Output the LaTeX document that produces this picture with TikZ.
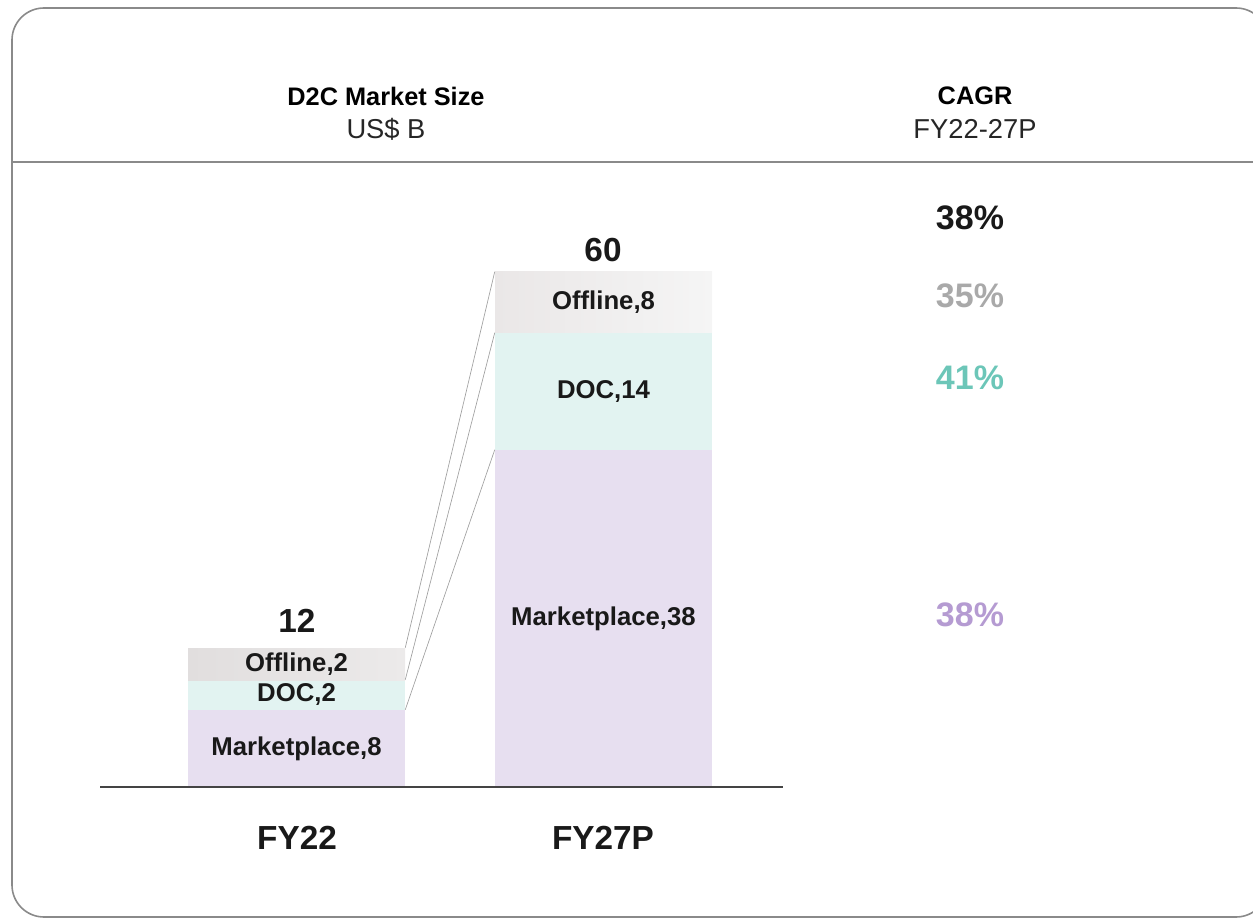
\documentclass[tikz,border=0pt]{standalone}
\usepackage{fontspec}
\setmainfont{Liberation Sans}
\definecolor{frame}{HTML}{8A8A8A}
\definecolor{offA}{HTML}{E1DEDE}
\definecolor{offB}{HTML}{ECEAEA}
\definecolor{offC}{HTML}{EAE7E7}
\definecolor{offD}{HTML}{F5F5F5}
\definecolor{docc}{HTML}{E2F3F1}
\definecolor{mkt}{HTML}{E7DFF0}
\definecolor{axisc}{HTML}{444444}
\definecolor{pgray}{HTML}{A9A9A9}
\definecolor{pteal}{HTML}{6CC6B8}
\definecolor{ppurp}{HTML}{B59BD2}
\definecolor{linkc}{HTML}{A0A0A0}
\begin{document}
\begin{tikzpicture}[x=0.75pt,y=-0.75pt,
  seg/.style={draw=none,inner sep=0pt,minimum width=162.75pt,font=\fontsize{19.3}{21}\selectfont\bfseries,text=black!90},
  hdr/.style={font=\fontsize{19}{22}\selectfont\bfseries,text=black},
  sub/.style={font=\fontsize{20.5}{23}\selectfont,text=black!85},
  big/.style={font=\fontsize{25}{28}\selectfont\bfseries,text=black!90},
  pct/.style={font=\fontsize{25.5}{28}\selectfont\bfseries},
  link/.style={draw=linkc,line width=0.5pt}]
\useasboundingbox (0,0) rectangle (1253,919);
\begin{scope}
\clip (0,0) rectangle (1253,919);
\draw[frame,line width=1.2pt,rounded corners=24pt] (12,8) rectangle (1268,917);
\end{scope}
\coordinate (hl) at (11,162);
\coordinate (hr) at (1253,162);
\draw[frame,line width=1.2pt] (hl) -- (hr);
% headers
\node[hdr] (t1) at (386,96) {D2C Market Size};
\node[sub] (s1) at (386,129) {US\$ B};
\node[hdr] (t2) at (975,96) {CAGR};
\node[sub] (s2) at (975,129) {FY22-27P};
% FY22 bar
\node[seg,minimum height=58.5pt,fill=mkt] (am) at (296.5,749) {Marketplace,8};
\node[seg,minimum height=22.5pt,fill=docc] (ad) at (296.5,695) {DOC,2};
\node[seg,minimum height=24pt,left color=offA,right color=offB] (ao) at (296.5,664) {Offline,2};
% FY27 bar
\node[seg,minimum height=253.5pt,fill=mkt] (bm) at (603.5,619) {Marketplace,38};
\node[seg,minimum height=87.75pt,fill=docc] (bd) at (603.5,391.5) {DOC,14};
\node[seg,minimum height=45.75pt,left color=offC,right color=offD] (bo) at (603.5,302.5) {Offline,8};
% connectors
\draw[link] (ao.north east) -- (bo.north west);
\draw[link] (ad.north east) -- (bd.north west);
\draw[link] (am.north east) -- (bm.north west);
% totals
\node[big] (tot1) at (297,621) {12};
\node[big] (tot2) at (603,250) {60};
% axis
\coordinate (xl) at (100,787);
\coordinate (xr) at (783,787);
\draw[axisc,line width=1.6pt] (xl) -- (xr);
\node[big] (fy1) at (297,838) {FY22};
\node[big] (fy2) at (603,838) {FY27P};
% CAGR values
\node[pct,text=black!90] (p1) at (970,218) {38\%};
\node[pct,text=pgray] (p2) at (970,296) {35\%};
\node[pct,text=pteal] (p3) at (970,378) {41\%};
\node[pct,text=ppurp] (p4) at (970,615) {38\%};
\end{tikzpicture}
\end{document}
